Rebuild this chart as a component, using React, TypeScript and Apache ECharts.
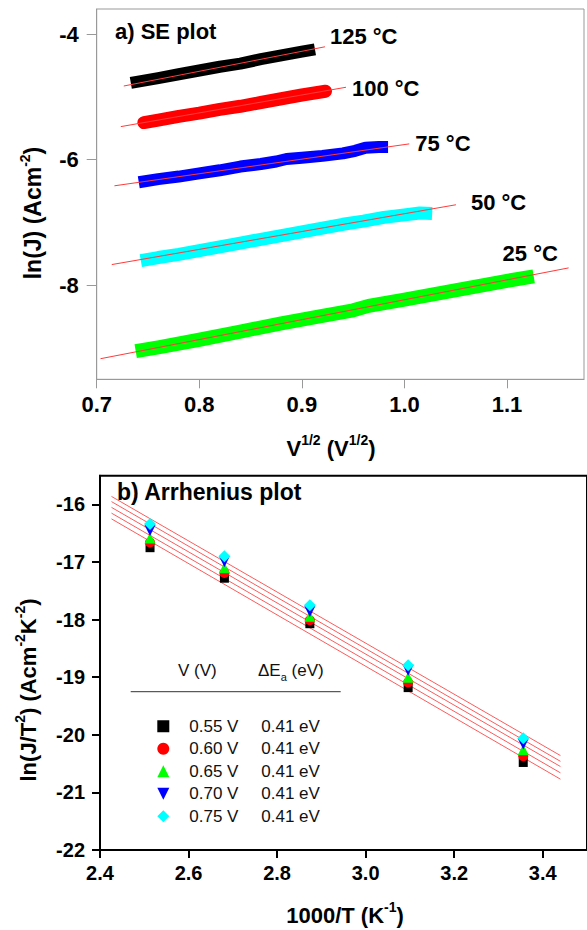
import React, { useEffect, useRef } from "react";
import * as echarts from "echarts";

const FONT = "'Liberation Sans', Arial, sans-serif";

// ---- panel a) SE plot ----
const topXTicks = [0.7, 0.8, 0.9, 1.0, 1.1];
const topYTicks = [-8, -6, -4];
const tempLabels = ["125 °C", "100 °C", "75 °C", "50 °C", "25 °C"];

const band125 = [
  [0.739, -4.76], [0.76, -4.7], [0.78, -4.64], [0.8, -4.58], [0.82, -4.52],
  [0.84, -4.47], [0.86, -4.4], [0.88, -4.34], [0.9, -4.28], [0.907, -4.26],
];
const band100 = [
  [0.746, -5.41], [0.76, -5.37], [0.78, -5.31], [0.8, -5.26], [0.82, -5.2],
  [0.84, -5.15], [0.86, -5.09], [0.88, -5.03], [0.9, -4.97], [0.923, -4.91],
];
const band75 = [
  [0.741, -6.36], [0.76, -6.31], [0.78, -6.27], [0.8, -6.22], [0.82, -6.17],
  [0.84, -6.11], [0.86, -6.07], [0.875, -6.03], [0.885, -5.99], [0.9, -5.97],
  [0.92, -5.94], [0.94, -5.9], [0.952, -5.86], [0.962, -5.81], [0.975, -5.8],
  [0.984, -5.8],
];
const band50 = [
  [0.743, -7.61], [0.76, -7.56], [0.78, -7.51], [0.8, -7.45], [0.82, -7.39],
  [0.84, -7.33], [0.86, -7.27], [0.88, -7.21], [0.9, -7.15], [0.92, -7.09],
  [0.94, -7.03], [0.96, -6.98], [0.98, -6.92], [1.0, -6.88], [1.015, -6.85],
  [1.027, -6.86],
];
const band25 = [
  [0.738, -9.05], [0.76, -8.99], [0.8, -8.87], [0.84, -8.74], [0.88, -8.61],
  [0.92, -8.49], [0.95, -8.4], [0.965, -8.33], [1.0, -8.23], [1.04, -8.11],
  [1.08, -7.99], [1.1, -7.93], [1.126, -7.86],
];
const fit125 = [[0.7264, -4.827], [0.9225, -4.202]];
const fit100 = [[0.7235, -5.474], [0.943, -4.847]];
const fit75 = [[0.7173, -6.417], [1.0047, -5.749]];
const fit50 = [[0.7147, -7.672], [1.0502, -6.719]];
const fit25 = [[0.7037, -9.172], [1.16, -7.725]];

// ---- panel b) Arrhenius plot ----
const botXTicks = [2.4, 2.6, 2.8, 3.0, 3.2, 3.4];
const botYTicks = [-22, -21, -20, -19, -18, -17, -16];
const invT = [2.513, 2.681, 2.874, 3.096, 3.356];
const lnJT055 = [-16.75, -17.28, -18.07, -19.18, -20.48];
const lnJT060 = [-16.66, -17.19, -18.01, -19.09, -20.37];
const lnJT065 = [-16.58, -17.1, -17.94, -19.0, -20.26];
const lnJT070 = [-16.45, -16.99, -17.86, -18.88, -20.16];
const lnJT075 = [-16.34, -16.9, -17.75, -18.79, -20.06];
const voltages = ["0.55 V", "0.60 V", "0.65 V", "0.70 V", "0.75 V"];
const activation = ["0.41 eV", "0.41 eV", "0.41 eV", "0.41 eV", "0.41 eV"];
const fitX = [2.426, 3.44];
const fitY055 = [-16.25, -20.77];
const fitY060 = [-16.15, -20.66];
const fitY065 = [-16.05, -20.55];
const fitY070 = [-15.95, -20.46];
const fitY075 = [-15.86, -20.36];

export default function App() {
  const ref = useRef<HTMLDivElement>(null);
  useEffect(() => {
    document.body.style.margin = "0";
    if (!ref.current) return;
    const chart = echarts.init(ref.current, undefined, { renderer: "svg" });

    const bands = [band125, band100, band75, band50, band25];
    const bandColors = ["#000000", "#ff0000", "#0000ff", "#00ffff", "#00ff00"];
    const bandWidths = [12, 13, 12, 13, 14];
    const bandCaps = ["square", "round", "butt", "butt", "butt"];
    const fits = [fit125, fit100, fit75, fit50, fit25];
    const labelOffsets = [[0, -10], [1, 1], [1, 0], [10, -2], [-71, -14]];

    const scatterData = [lnJT055, lnJT060, lnJT065, lnJT070, lnJT075];
    const scatterColors = ["#000000", "#ff0000", "#00ff00", "#0000ff", "#00ffff"];
    const scatterSymbols = [
      "rect",
      "circle",
      "triangle",
      "path://M0,0 L10,0 L5,10 Z",
      "diamond",
    ];
    const scatterSizes = [9, 10, 11, 11, 12];
    const fitYs = [fitY055, fitY060, fitY065, fitY070, fitY075];

    const series: any[] = [];
    bands.forEach((b, i) => {
      series.push({
        type: "line",
        xAxisIndex: 0,
        yAxisIndex: 0,
        data: b,
        showSymbol: false,
        symbol: "none",
        lineStyle: { color: bandColors[i], width: bandWidths[i], cap: bandCaps[i], join: "round" },
        z: 2,
        silent: true,
      });
    });
    fits.forEach((f, i) => {
      series.push({
        type: "line",
        xAxisIndex: 0,
        yAxisIndex: 0,
        data: f,
        showSymbol: false,
        symbol: "none",
        lineStyle: { color: "#ff3b3b", width: 1 },
        z: 3,
        silent: true,
        endLabel: {
          show: true,
          formatter: tempLabels[i],
          distance: 5,
          offset: labelOffsets[i],
          fontSize: 22,
          fontWeight: "bold",
          fontFamily: FONT,
          color: "#000",
        },
      });
    });
    fitYs.forEach((fy) => {
      series.push({
        type: "line",
        xAxisIndex: 1,
        yAxisIndex: 1,
        data: fitX.map((x, k) => [x, fy[k]]),
        showSymbol: false,
        symbol: "none",
        lineStyle: { color: "#ff5a5a", width: 1 },
        z: 2,
        silent: true,
      });
    });
    scatterData.forEach((d, i) => {
      series.push({
        type: "scatter",
        name: voltages[i],
        xAxisIndex: 1,
        yAxisIndex: 1,
        data: invT.map((x, k) => [x, d[k]]),
        symbol: scatterSymbols[i],
        symbolSize: scatterSizes[i],
        itemStyle: { color: scatterColors[i], opacity: 1 },
        z: 3,
      });
    });

    const tickLabel = (size: number) => ({
      fontSize: size,
      fontWeight: "bold",
      fontFamily: FONT,
      color: "#000",
    });

    const titleRich = (size: number) => ({
      n: { fontSize: size, fontWeight: "bold", fontFamily: FONT, fill: "#000", lineHeight: 30 },
      s: { fontSize: 14, fontWeight: "bold", fontFamily: FONT, fill: "#000", lineHeight: 30, verticalAlign: "top" },
    });

    const option: any = {
      animation: false,
      backgroundColor: "#fff",
      grid: [
        { left: 96.7, top: 9, width: 487.3, height: 370.3, show: true, borderColor: "#999", borderWidth: 1, containLabel: false },
        { left: 100, top: 475.7, width: 491, height: 374.3, show: true, borderColor: "#000", borderWidth: 2, containLabel: false },
      ],
      xAxis: [
        {
          type: "value", gridIndex: 0, min: 0.7, max: 1.175,
          axisLine: { show: true, onZero: false, lineStyle: { color: "#999", width: 1 } },
          axisTick: { show: true, inside: false, length: 9, customValues: topXTicks, lineStyle: { color: "#999" } },
          axisLabel: { customValues: topXTicks, formatter: (v: number) => v.toFixed(1), margin: 14, ...tickLabel(22) },
          splitLine: { show: false },
        },
        {
          type: "value", gridIndex: 1, min: 2.4, max: 3.5,
          axisLine: { show: true, onZero: false, lineStyle: { color: "#000", width: 2 } },
          axisTick: { show: true, inside: false, length: 8, customValues: botXTicks, lineStyle: { color: "#000", width: 2 } },
          axisLabel: { customValues: botXTicks, formatter: (v: number) => v.toFixed(1), margin: 13, ...tickLabel(20) },
          splitLine: { show: false },
        },
      ],
      yAxis: [
        {
          type: "value", gridIndex: 0, min: -9.5, max: -3.6,
          axisLine: { show: true, onZero: false, lineStyle: { color: "#999", width: 1 } },
          axisTick: { show: true, inside: false, length: 10, customValues: topYTicks, lineStyle: { color: "#999" } },
          axisLabel: { customValues: topYTicks, formatter: (v: number) => String(v), margin: 18, ...tickLabel(22) },
          splitLine: { show: false },
        },
        {
          type: "value", gridIndex: 1, min: -22, max: -15.5,
          axisLine: { show: true, onZero: false, lineStyle: { color: "#000", width: 2 } },
          axisTick: { show: true, inside: false, length: 8, customValues: botYTicks, lineStyle: { color: "#000", width: 2 } },
          axisLabel: { customValues: botYTicks, formatter: (v: number) => String(v), margin: 15, ...tickLabel(20) },
          splitLine: { show: false },
        },
      ],
      legend: {
        data: voltages,
        orient: "vertical",
        left: 152.3,
        top: 710,
        itemWidth: 12,
        itemHeight: 12,
        itemGap: 0,
        selectedMode: false,
        formatter: (name: string) => `{a|${name}}{b|${activation[voltages.indexOf(name)]}}`,
        textStyle: {
          fontSize: 17,
          fontFamily: FONT,
          color: "#111",
          lineHeight: 22.5,
          rich: {
            a: { fontSize: 17, fontFamily: FONT, color: "#111", width: 72, padding: [0, 0, 0, 15], lineHeight: 22.5 },
            b: { fontSize: 17, fontFamily: FONT, color: "#111", lineHeight: 22.5 },
          },
        },
      },
      graphic: [
        {
          type: "text", left: 115, top: 20, z: 10, silent: true,
          style: { text: "a) SE plot", fontSize: 22, fontWeight: "bold", fontFamily: FONT, fill: "#000" },
        },
        {
          type: "text", left: 117, top: 480, z: 10, silent: true,
          style: { text: "b) Arrhenius plot", fontSize: 23, fontWeight: "bold", fontFamily: FONT, fill: "#000" },
        },
        {
          type: "text", x: 33, y: 213, rotation: Math.PI / 2, silent: true,
          style: {
            text: "{n|ln(J) (Acm}{s|-2}{n|)}", align: "center", verticalAlign: "middle",
            rich: titleRich(23),
          },
        },
        {
          type: "text", x: 331, y: 448, silent: true,
          style: {
            text: "{n|V}{s|1/2}{n| (V}{s|1/2}{n|)}", align: "center", verticalAlign: "middle",
            rich: titleRich(22),
          },
        },
        {
          type: "text", x: 28, y: 690, rotation: Math.PI / 2, silent: true,
          style: {
            text: "{n|ln(J/T}{s|2}{n|) (Acm}{s|-2}{n|K}{s|-2}{n|)}", align: "center", verticalAlign: "middle",
            rich: titleRich(22),
          },
        },
        {
          type: "text", x: 345, y: 915, silent: true,
          style: {
            text: "{n|1000/T (K}{s|-1}{n|)}", align: "center", verticalAlign: "middle",
            rich: titleRich(22),
          },
        },
        {
          type: "text", x: 178, y: 670, silent: true,
          style: { text: "V (V)", fontSize: 17, fontFamily: FONT, fill: "#111", verticalAlign: "middle" },
        },
        {
          type: "text", x: 258, y: 670, silent: true,
          style: {
            text: "{n|ΔE}{b|a}{n| (eV)}", verticalAlign: "middle",
            rich: {
              n: { fontSize: 17, fontFamily: FONT, fill: "#111", lineHeight: 24 },
              b: { fontSize: 11, fontFamily: FONT, fill: "#111", lineHeight: 24, verticalAlign: "bottom" },
            },
          },
        },
        {
          type: "line", silent: true,
          shape: { x1: 130.7, y1: 691.7, x2: 340.7, y2: 691.7 },
          style: { stroke: "#333", lineWidth: 1 },
        },
      ],
      series,
    };
    chart.setOption(option);
    return () => chart.dispose();
  }, []);
  return <div ref={ref} style={{ width: 587, height: 930 }} />;
}
